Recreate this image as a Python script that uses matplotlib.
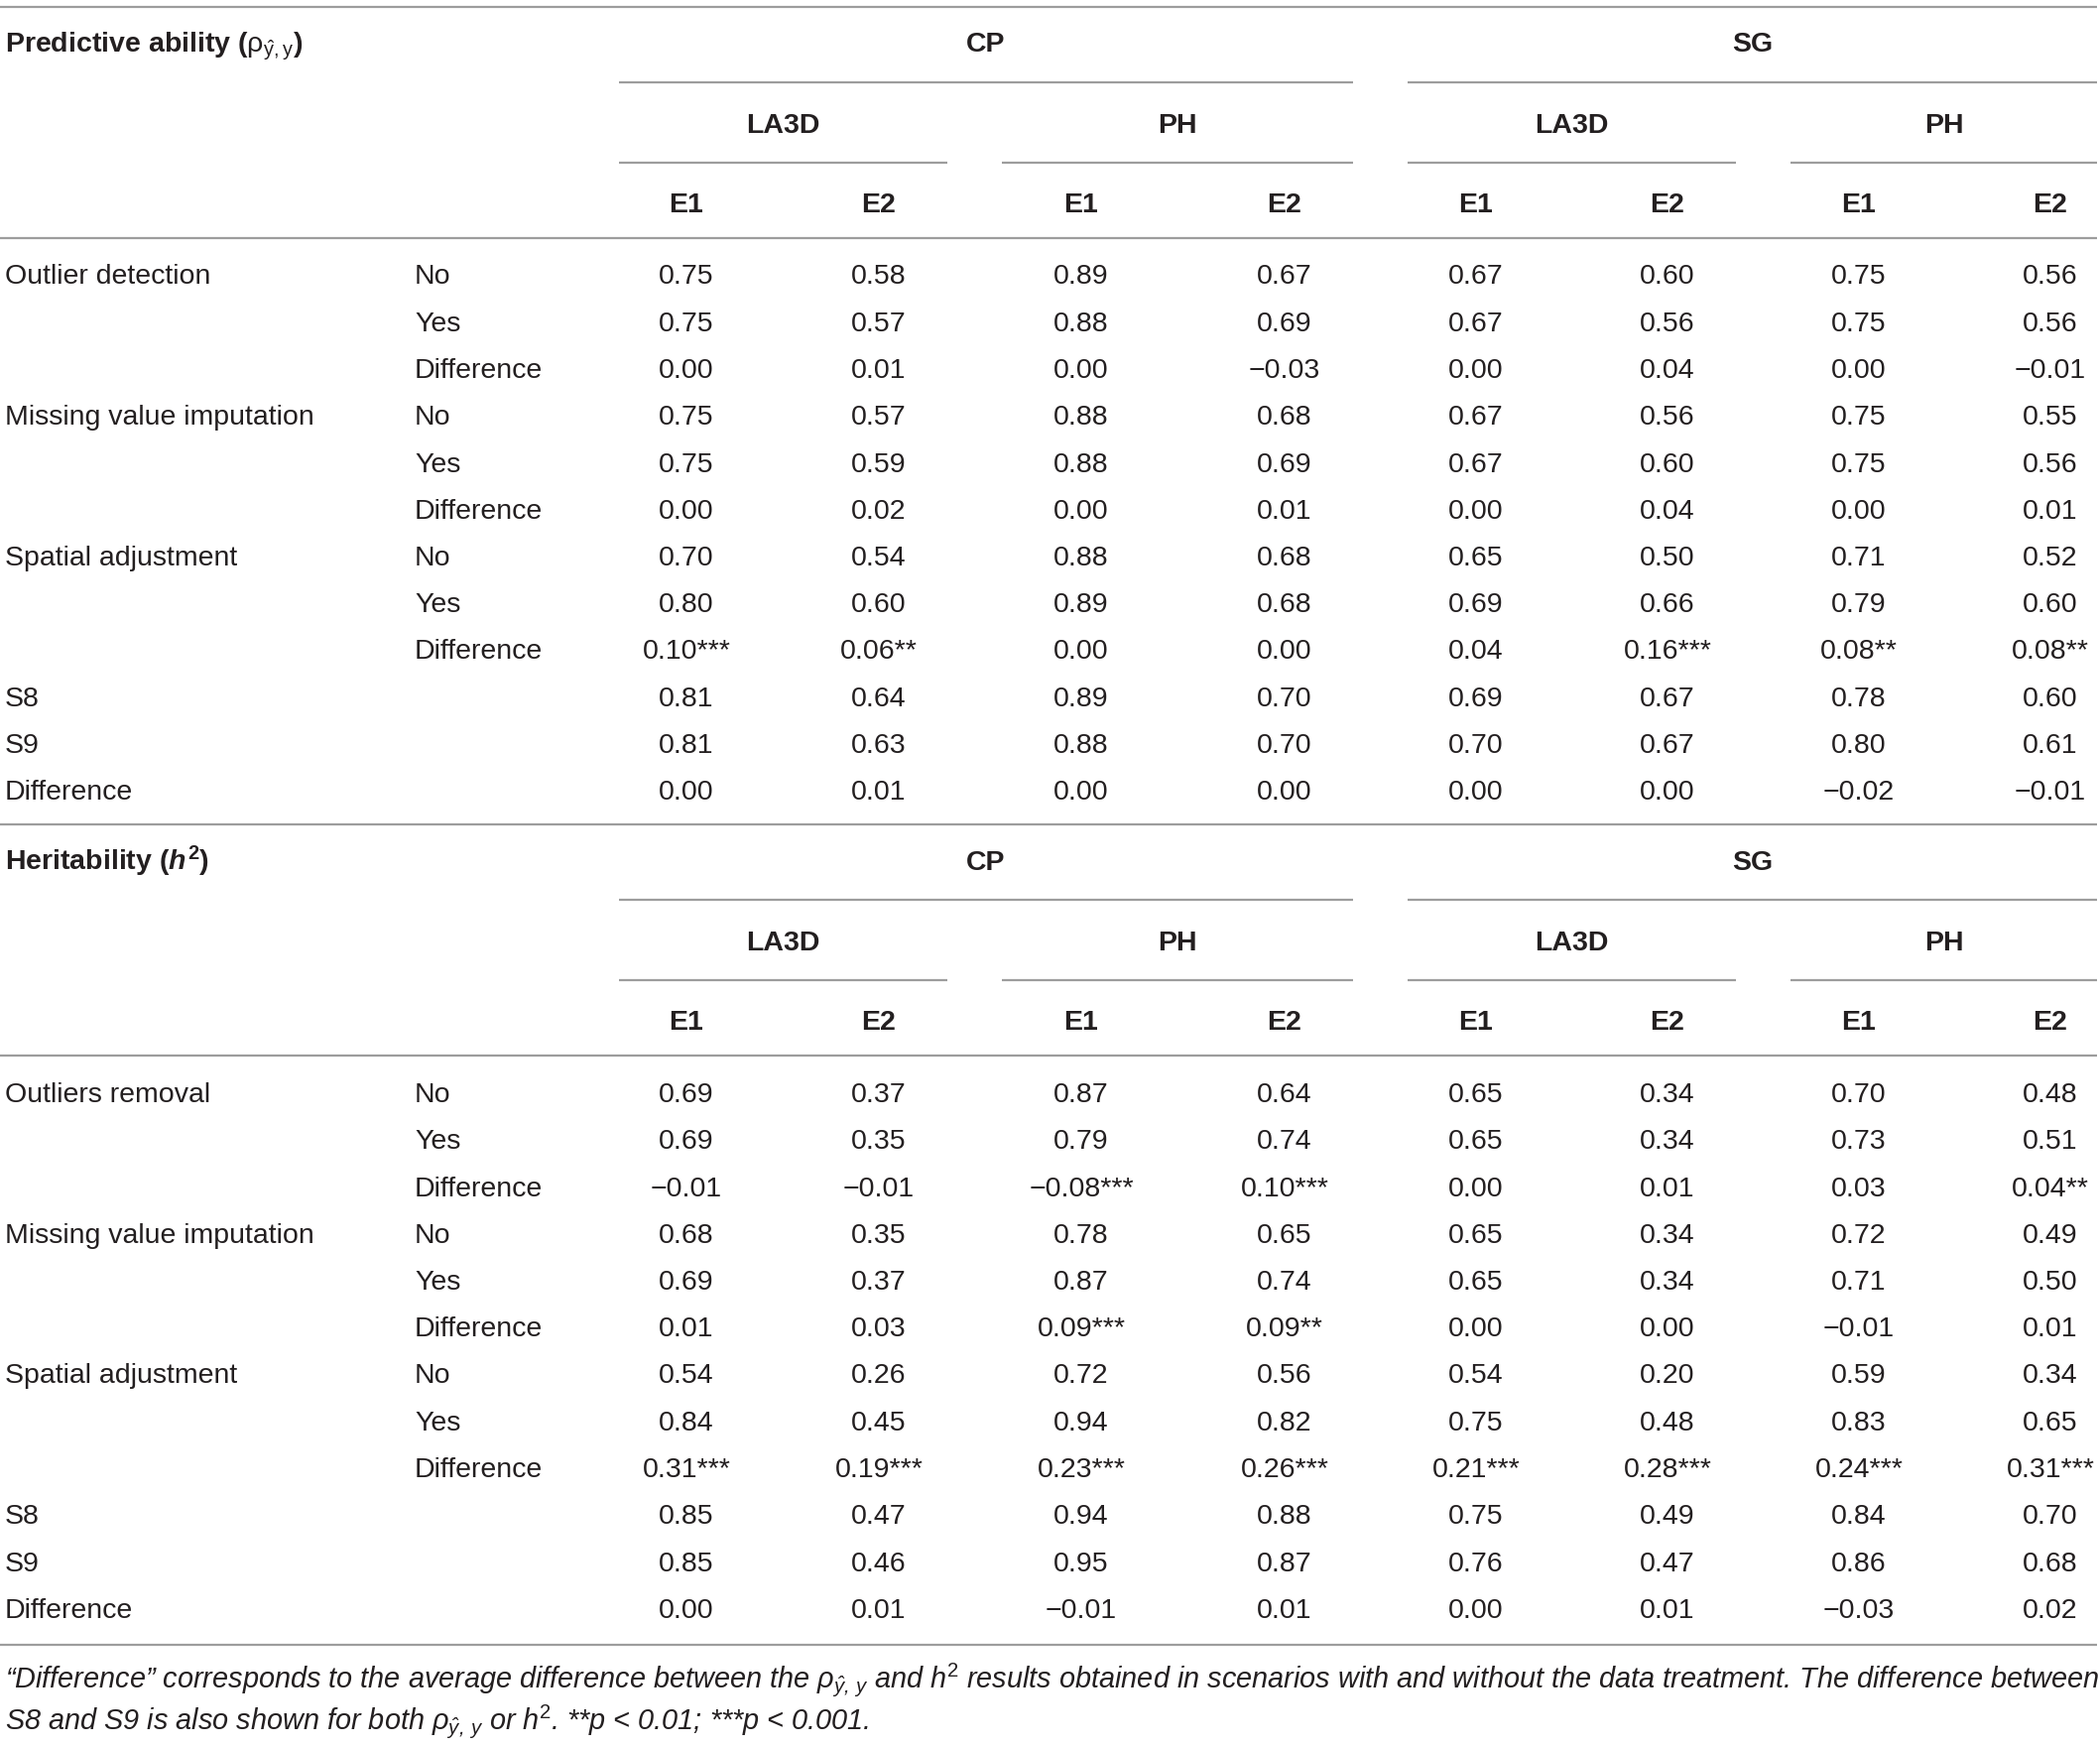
import numpy as np
import matplotlib as mpl
import matplotlib.pyplot as plt

mpl.rcParams['font.family'] = ['Liberation Sans', 'DejaVu Sans']
mpl.rcParams['mathtext.fontset'] = 'custom'
mpl.rcParams['mathtext.rm'] = 'Liberation Sans'
mpl.rcParams['mathtext.it'] = 'Liberation Sans:italic:bold'
mpl.rcParams['mathtext.bf'] = 'Liberation Sans:bold'
mpl.rcParams['mathtext.sf'] = 'Liberation Sans:italic'

# column headers
crops = ['CP', 'SG']
traits = ['LA3D', 'PH']
envs = ['E1', 'E2']

# row labels (same for both blocks apart from first treatment name)
groups_pa = ['Outlier detection', 'Missing value imputation', 'Spatial adjustment']
groups_h2 = ['Outliers removal', 'Missing value imputation', 'Spatial adjustment']
levels = ['No', 'Yes', 'Difference']
tail_rows = ['S8', 'S9', 'Difference']

# predictive ability values
pa_vals = [
    ['0.75', '0.58', '0.89', '0.67', '0.67', '0.60', '0.75', '0.56'],
    ['0.75', '0.57', '0.88', '0.69', '0.67', '0.56', '0.75', '0.56'],
    ['0.00', '0.01', '0.00', '\u22120.03', '0.00', '0.04', '0.00', '\u22120.01'],
    ['0.75', '0.57', '0.88', '0.68', '0.67', '0.56', '0.75', '0.55'],
    ['0.75', '0.59', '0.88', '0.69', '0.67', '0.60', '0.75', '0.56'],
    ['0.00', '0.02', '0.00', '0.01', '0.00', '0.04', '0.00', '0.01'],
    ['0.70', '0.54', '0.88', '0.68', '0.65', '0.50', '0.71', '0.52'],
    ['0.80', '0.60', '0.89', '0.68', '0.69', '0.66', '0.79', '0.60'],
    ['0.10***', '0.06**', '0.00', '0.00', '0.04', '0.16***', '0.08**', '0.08**'],
    ['0.81', '0.64', '0.89', '0.70', '0.69', '0.67', '0.78', '0.60'],
    ['0.81', '0.63', '0.88', '0.70', '0.70', '0.67', '0.80', '0.61'],
    ['0.00', '0.01', '0.00', '0.00', '0.00', '0.00', '\u22120.02', '\u22120.01'],
]

# heritability values
h2_vals = [
    ['0.69', '0.37', '0.87', '0.64', '0.65', '0.34', '0.70', '0.48'],
    ['0.69', '0.35', '0.79', '0.74', '0.65', '0.34', '0.73', '0.51'],
    ['\u22120.01', '\u22120.01', '\u22120.08***', '0.10***', '0.00', '0.01', '0.03', '0.04**'],
    ['0.68', '0.35', '0.78', '0.65', '0.65', '0.34', '0.72', '0.49'],
    ['0.69', '0.37', '0.87', '0.74', '0.65', '0.34', '0.71', '0.50'],
    ['0.01', '0.03', '0.09***', '0.09**', '0.00', '0.00', '\u22120.01', '0.01'],
    ['0.54', '0.26', '0.72', '0.56', '0.54', '0.20', '0.59', '0.34'],
    ['0.84', '0.45', '0.94', '0.82', '0.75', '0.48', '0.83', '0.65'],
    ['0.31***', '0.19***', '0.23***', '0.26***', '0.21***', '0.28***', '0.24***', '0.31***'],
    ['0.85', '0.47', '0.94', '0.88', '0.75', '0.49', '0.84', '0.70'],
    ['0.85', '0.46', '0.95', '0.87', '0.76', '0.47', '0.86', '0.68'],
    ['0.00', '0.01', '\u22120.01', '0.01', '0.00', '0.01', '\u22120.03', '0.02'],
]

W, H = 2117, 1761
fig = plt.figure(figsize=(W / 100, H / 100), dpi=100)
ax = fig.add_axes([0, 0, 1, 1])
ax.set_xlim(0, W)
ax.set_ylim(H, 0)
ax.axis('off')

TXT = '#231f20'
LINE = '#9d9d9d'
FS = 20.5
LW = 1.6

col_x = [692, 886, 1090, 1295, 1488, 1681, 1874, 2067]
trait_span = [(624, 955), (1010, 1364), (1419, 1750), (1805, 2114)]
crop_span = [(624, 1364), (1419, 2114)]
x_lab, x_lev = 5, 418
row_step = 47.25


def hline(y, x0=0, x1=2114):
    ax.plot([x0, x1], [y, y], color=LINE, lw=LW, solid_capstyle='butt')


def draw_block(top, title, groups, vals):
    # top = y of the line above block
    ax.text(x_lab, top + 46, title, fontsize=FS, fontweight='bold', color=TXT, va='baseline')
    for i, c in enumerate(crops):
        x0, x1 = crop_span[i]
        ax.text((x0 + x1) / 2, top + 46, c, fontsize=FS, fontweight='bold', color=TXT,
                ha='center', va='baseline')
        hline(top + 76, x0, x1)
    for j in range(4):
        x0, x1 = trait_span[j]
        ax.text((x0 + x1) / 2, top + 127, traits[j % 2], fontsize=FS, fontweight='bold',
                color=TXT, ha='center', va='baseline')
        hline(top + 157, x0, x1)
    for k, x in enumerate(col_x):
        ax.text(x, top + 207, envs[k % 2], fontsize=FS, fontweight='bold', color=TXT,
                ha='center', va='baseline')
    hline(top + 233)
    base = top + 280
    for r in range(12):
        y = base + r * row_step
        if r < 9:
            if r % 3 == 0:
                ax.text(x_lab, y, groups[r // 3], fontsize=FS, color=TXT, va='baseline')
            ax.text(x_lev, y, levels[r % 3], fontsize=FS, color=TXT, va='baseline')
        else:
            ax.text(x_lab, y, tail_rows[r - 9], fontsize=FS, color=TXT, va='baseline')
        for k, x in enumerate(col_x):
            ax.text(x, y, vals[r][k], fontsize=FS, color=TXT, ha='center', va='baseline')


hline(6.5)
draw_block(6.5, r'Predictive ability ($\mathrm{\rho}_{\mathrm{\hat{y},y}}$)', groups_pa, pa_vals)
hline(831)
draw_block(831, r'Heritability ($\mathit{h}^{\mathbf{2}}$)', groups_h2, h2_vals)
hline(1658)

note1 = (r'“Difference” corresponds to the average difference between the '
         r'$\mathsf{\rho_{\hat{y},\,y}}$ and $\mathsf{h}^{2}$ results obtained in scenarios '
         r'with and without the data treatment. The difference between')
note2 = (r'S8 and S9 is also shown for both $\mathsf{\rho_{\hat{y},\,y}}$ or $\mathsf{h}^{2}$. '
         r'**p < 0.01; ***p < 0.001.')
ax.text(x_lab, 1701, note1, fontsize=20.8, style='italic', color=TXT, va='baseline')
ax.text(x_lab, 1743, note2, fontsize=20.8, style='italic', color=TXT, va='baseline')

fig.savefig('out.png', dpi=100, facecolor='white')
